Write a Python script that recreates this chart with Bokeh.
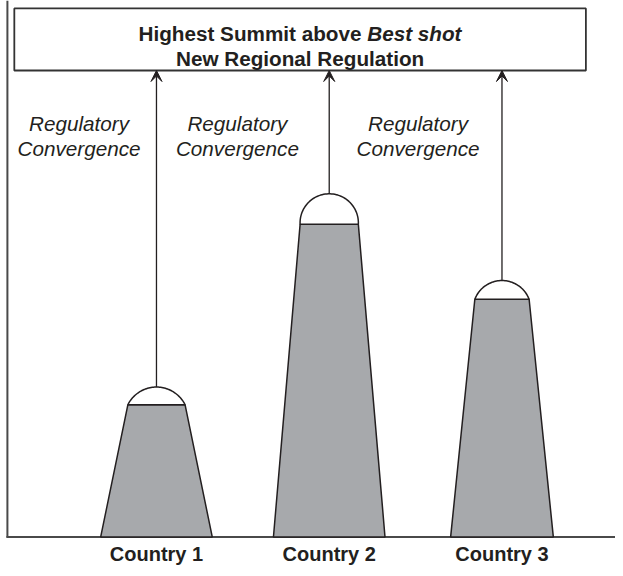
import numpy as np
from bokeh.plotting import figure
from bokeh.models import Range1d, Arrow, VeeHead, ColumnDataSource
from bokeh.core.properties import value
from bokeh.embed import file_html
from bokeh.resources import INLINE

# ---- data ----
countries = ["Country 1", "Country 2", "Country 3"]
plateau = [134, 317, 241]          # level reached (top of grey body)
summit = [152, 348, 260]           # best shot (top of dome)
regional_level = 473               # new regional regulation level
title_bold = "Highest Summit above"
title_italic = "Best shot"
title_line2 = "New Regional Regulation"
conv_line1 = ["Regulatory", "Regulatory", "Regulatory"]
conv_line2 = ["Convergence", "Convergence", "Convergence"]

# ---- layout helpers ----
PX = 175.0            # reference pixels per category step
C0 = 158.0            # reference x of first category
def xd(px):           # reference x -> data x
    return (px - C0) / PX + 1.0

W, H = 615, 568
INK = "#231F20"
GREY = "#A7A9AC"
FONT = value("Liberation Sans")

p = figure(width=W, height=H, output_backend="svg", toolbar_location=None,
           x_range=Range1d(xd(0), xd(623)), y_range=Range1d(544 - 576, 544),
           x_axis_type=None, y_axis_type=None, min_border=0)
p.grid.visible = False
p.outline_line_color = None
p.background_fill_color = "white"
p.border_fill_color = "white"

idx = np.arange(1, len(countries) + 1)
base_half = [56.5, 56.5, 52.0]
top_half = [29.0, 29.5, 27.5]

# frame lines
p.segment(x0=[xd(7)], y0=[-0.5], x1=[xd(7)], y1=[544], line_color="#4a4a4a", line_width=2)
p.segment(x0=[xd(6)], y0=[0], x1=[xd(623)], y1=[0], line_color="#4a4a4a", line_width=2)

# mountain bodies
xs, ys = [], []
for i, c in enumerate(idx):
    xs.append([c - base_half[i] / PX, c - top_half[i] / PX, c + top_half[i] / PX, c + base_half[i] / PX])
    ys.append([0, plateau[i], plateau[i], 0])
p.patches(xs, ys, fill_color=GREY, line_color=INK, line_width=1.5)

# domes (circular segments)
dx, dy = [], []
for i, c in enumerate(idx):
    a = top_half[i]
    h = summit[i] - plateau[i]
    R = (a * a + h * h) / (2 * h)
    yc = summit[i] - R
    phi = np.arctan2(a, plateau[i] - yc)
    t = np.linspace(-phi, phi, 60)
    dx.append(list(c + R * np.sin(t) / PX))
    dy.append(list(yc + R * np.cos(t)))
p.patches(dx, dy, fill_color="white", line_color=INK, line_width=1.5)

# box
p.quad(left=[xd(14)], right=[xd(593)], bottom=[regional_level], top=[536],
       fill_color="white", line_color="#333333", line_width=1.8)

# arrows
src = ColumnDataSource(dict(x=list(idx), y0=summit, y1=[regional_level] * 3))
p.add_layout(Arrow(x_start="x", y_start="y0", x_end="x", y_end="y1", source=src,
                   line_color=INK, line_width=1.3,
                   end=VeeHead(size=11, fill_color=INK, line_color=INK, line_width=1)))

# title text
split = 303.5 - 164 + 232
p.text(x=[xd(split - 5.8)], y=[511], text=[title_bold], text_font=FONT, text_font_size="20.7px",
       text_font_style="bold", text_align="right", text_baseline="alphabetic", text_color=INK)
p.text(x=[xd(split)], y=[511], text=[title_italic], text_font=FONT, text_font_size="20.7px",
       text_font_style="bold italic", text_align="left", text_baseline="alphabetic", text_color=INK)
p.text(x=[xd(303.5)], y=[485], text=[title_line2], text_font=FONT, text_font_size="20.7px",
       text_font_style="bold", text_align="center", text_baseline="alphabetic", text_color=INK)

# convergence labels
conv_x = [xd(79.5), xd(240), xd(423)]
p.text(x=conv_x, y=[419] * 3, text=conv_line1, text_font=FONT, text_font_size="20.7px",
       text_font_style="italic", text_align="center", text_baseline="alphabetic", text_color=INK)
p.text(x=conv_x, y=[394] * 3, text=conv_line2, text_font=FONT, text_font_size="20.7px",
       text_font_style="italic", text_align="center", text_baseline="alphabetic", text_color=INK)

# country labels
p.text(x=list(idx), y=[-17] * 3, text=countries, text_font=FONT, text_font_size="20px",
       text_font_style="bold", text_align="center", text_baseline="alphabetic", text_color=INK)

open("out.html", "w").write(file_html(p, INLINE))
